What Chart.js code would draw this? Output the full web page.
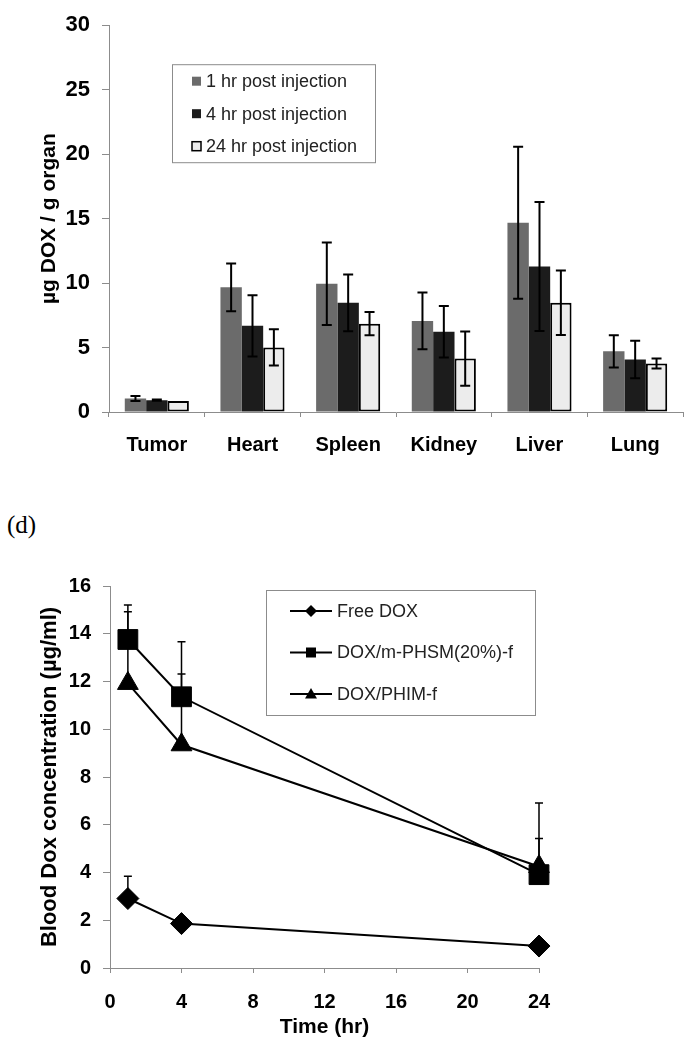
<!DOCTYPE html>
<html>
<head>
<meta charset="utf-8">
<script src="https://cdn.jsdelivr.net/npm/chart.js@4.4.1/dist/chart.umd.min.js"></script>
<style>
  body { margin: 0; width: 699px; height: 1050px; background: #fff; position: relative; overflow: hidden; }
  #organ-wrap { position: absolute; left: 0; top: 0; width: 699px; height: 470px; }
  #blood-wrap { position: absolute; left: 0; top: 560px; width: 699px; height: 490px; }
  #panel-label { position: absolute; left: 7px; top: 511px; font-family: "Liberation Serif", "Times New Roman", serif; font-size: 25px; color: #000; }
</style>
</head>
<body>
<div id="organ-wrap"><canvas id="organ-chart" width="699" height="470"></canvas></div>
<div id="panel-label">(d)</div>
<div id="blood-wrap"><canvas id="blood-chart" width="699" height="490"></canvas></div>
<script>
// organ distribution data (ug DOX / g organ)
const organs = ['Tumor', 'Heart', 'Spleen', 'Kidney', 'Liver', 'Lung'];
const organSeries = ['1 hr post injection', '4 hr post injection', '24 hr post injection'];
const hr1 = [1.05, 9.67, 9.95, 7.06, 14.68, 4.71];
const hr1Err = [0.2, 1.85, 3.2, 2.2, 5.9, 1.25];
const hr4 = [0.92, 6.68, 8.47, 6.22, 11.28, 4.07];
const hr4Err = [0.05, 2.38, 2.2, 2.0, 5.0, 1.45];
const hr24 = [0.85, 5.01, 6.85, 4.14, 8.47, 3.76];
const hr24Err = [0, 1.4, 0.9, 2.1, 2.5, 0.38];

// blood concentration data (ug/ml)
const timePoints = [1, 4, 24];
const bloodSeries = ['Free DOX', 'DOX/m-PHSM(20%)-f', 'DOX/PHIM-f'];
const freeDox = [2.91, 1.86, 0.92];
const freeDoxErr = [0.93, 0, 0];
const phsm = [13.76, 11.36, 3.91];
const phsmErr = [1.44, 2.3, 3.0];
const phim = [11.92, 9.35, 4.25];
const phimErr = [3.0, 2.96, 1.17];

const FONT = '"Liberation Sans", Arial, sans-serif';
const AXIS_GRAY = '#8c8c8c';

Chart.defaults.font.family = FONT;
Chart.defaults.color = '#000';

// error bars, drawn through the y scale of each chart
function drawErrorBars(chart, errors, symmetric, capHalf, lineWidth) {
    const ctx = chart.ctx;
    const yScale = chart.scales.y;
    ctx.save();
    ctx.strokeStyle = '#000';
    ctx.lineWidth = lineWidth;
    chart.data.datasets.forEach((ds, i) => {
        const meta = chart.getDatasetMeta(i);
        meta.data.forEach((el, j) => {
            const e = errors[i][j];
            if (!e) return;
            const raw = ds.data[j];
            const v = typeof raw === 'object' ? raw.y : raw;
            const yTop = yScale.getPixelForValue(v + e);
            const yBot = symmetric ? yScale.getPixelForValue(v - e) : el.y;
            ctx.beginPath();
            ctx.moveTo(el.x, yTop);
            ctx.lineTo(el.x, yBot);
            ctx.moveTo(el.x - capHalf, yTop);
            ctx.lineTo(el.x + capHalf, yTop);
            if (symmetric) {
                ctx.moveTo(el.x - capHalf, yBot);
                ctx.lineTo(el.x + capHalf, yBot);
            }
            ctx.stroke();
        });
    });
    ctx.restore();
}

function drawMarker(ctx, style, x, y, r) {
    ctx.beginPath();
    if (style === 'rectRot') {
        ctx.moveTo(x, y - r); ctx.lineTo(x + r, y); ctx.lineTo(x, y + r); ctx.lineTo(x - r, y);
    } else if (style === 'rect') {
        ctx.rect(x - r, y - r, 2 * r, 2 * r);
    } else {
        ctx.moveTo(x, y - r); ctx.lineTo(x + r, y + r * 0.75); ctx.lineTo(x - r, y + r * 0.75);
    }
    ctx.closePath();
    ctx.fill();
}

// legend boxes inside the plot area
function drawInsideLegend(chart, box) {
    const ctx = chart.ctx;
    const area = chart.chartArea;
    const left = area.left + box.dx;
    const top = area.top + box.dy;
    ctx.save();
    ctx.fillStyle = '#fff';
    ctx.fillRect(left, top, box.w, box.h);
    ctx.strokeStyle = AXIS_GRAY;
    ctx.lineWidth = 1;
    ctx.strokeRect(left + 0.5, top + 0.5, box.w, box.h);
    ctx.font = '18px ' + FONT;
    ctx.textBaseline = 'middle';
    chart.data.datasets.forEach((ds, i) => {
        const y = top + box.firstY + i * box.stepY;
        if (box.kind === 'bar') {
            ctx.fillStyle = ds.backgroundColor;
            ctx.fillRect(left + 20, y - 4.5, 9, 9);
            if (ds.borderWidth) {
                ctx.strokeStyle = '#000';
                ctx.lineWidth = 1.5;
                ctx.strokeRect(left + 20, y - 4.5, 9, 9);
            }
            ctx.fillStyle = '#222';
            ctx.fillText(ds.label, left + 34, y + 1);
        } else {
            ctx.strokeStyle = '#000';
            ctx.lineWidth = 2;
            ctx.beginPath();
            ctx.moveTo(left + 24, y);
            ctx.lineTo(left + 66, y);
            ctx.stroke();
            ctx.fillStyle = '#000';
            drawMarker(ctx, ds.pointStyle, left + 45, y, ds.pointStyle === 'rect' ? 5 : 6);
            ctx.fillStyle = '#222';
            ctx.fillText(ds.label, left + 71, y + 1);
        }
    });
    ctx.restore();
}

function initOrganChart() {
    const ctx = document.getElementById('organ-chart').getContext('2d');
    new Chart(ctx, {
        type: 'bar',
        data: {
            labels: organs,
            datasets: [
                { label: organSeries[0], data: hr1, backgroundColor: '#6b6b6b', borderWidth: 0 },
                { label: organSeries[1], data: hr4, backgroundColor: '#1c1c1c', borderWidth: 0 },
                { label: organSeries[2], data: hr24, backgroundColor: '#ececec', borderColor: '#000', borderWidth: 2, borderSkipped: false }
            ]
        },
        options: {
            responsive: false,
            animation: false,
            categoryPercentage: 0.67,
            barPercentage: 1.0,
            layout: { padding: { left: 0, top: 21, right: 16, bottom: 0 } },
            plugins: { legend: { display: false }, tooltip: { enabled: false } },
            scales: {
                x: {
                    grid: { drawOnChartArea: false, offset: true, tickLength: 5, color: AXIS_GRAY },
                    border: { color: AXIS_GRAY },
                    ticks: { font: { size: 20, weight: 'bold' }, color: '#000', padding: 16 },
                    afterFit(s) { s.height = 58; }
                },
                y: {
                    min: 0,
                    max: 30,
                    grid: { drawOnChartArea: false, tickLength: 7, color: AXIS_GRAY },
                    border: { color: AXIS_GRAY },
                    ticks: { stepSize: 5, font: { size: 22, weight: 'bold' }, color: '#000', padding: 12 },
                    title: {
                        display: true,
                        text: 'µg DOX / g organ',
                        font: { size: 21, weight: 'bold' },
                        color: '#000',
                        padding: { top: 37, bottom: 0 }
                    },
                    afterFit(s) { s.width = 109; }
                }
            }
        },
        plugins: [{
            id: 'organExtras',
            afterDatasetsDraw(chart) {
                drawErrorBars(chart, [hr1Err, hr4Err, hr24Err], true, 5, 2);
                drawInsideLegend(chart, { kind: 'bar', dx: 63, dy: 39, w: 203, h: 98, firstY: 17, stepY: 32.5 });
            }
        }]
    });
}

function initBloodChart() {
    const ctx = document.getElementById('blood-chart').getContext('2d');
    const toPoints = arr => timePoints.map((t, i) => ({ x: t, y: arr[i] }));
    const lineStyle = { borderColor: '#000', backgroundColor: '#000', borderWidth: 2, pointBorderWidth: 1, pointBorderColor: '#000', tension: 0, clip: false };
    new Chart(ctx, {
        type: 'line',
        data: {
            datasets: [
                Object.assign({ label: bloodSeries[0], data: toPoints(freeDox), pointStyle: 'rectRot', pointRadius: 11 }, lineStyle),
                Object.assign({ label: bloodSeries[1], data: toPoints(phsm), pointStyle: 'rect', pointRadius: 14 }, lineStyle),
                Object.assign({ label: bloodSeries[2], data: toPoints(phim), pointStyle: 'triangle', pointRadius: 12 }, lineStyle)
            ]
        },
        options: {
            responsive: false,
            animation: false,
            layout: { padding: { left: 0, top: 26, right: 160, bottom: 0 } },
            plugins: { legend: { display: false }, tooltip: { enabled: false } },
            scales: {
                x: {
                    type: 'linear',
                    min: 0,
                    max: 24,
                    grid: { drawOnChartArea: false, tickLength: 5, color: AXIS_GRAY },
                    border: { color: AXIS_GRAY },
                    ticks: { stepSize: 4, font: { size: 20, weight: 'bold' }, color: '#000', padding: 17 },
                    title: {
                        display: true,
                        text: 'Time (hr)',
                        font: { size: 21, weight: 'bold' },
                        color: '#000',
                        padding: { top: 0, bottom: 10 }
                    },
                    afterFit(s) { s.height = 82; }
                },
                y: {
                    min: 0,
                    max: 16,
                    grid: { drawOnChartArea: false, tickLength: 7, color: AXIS_GRAY },
                    border: { color: AXIS_GRAY },
                    ticks: { stepSize: 2, font: { size: 20, weight: 'bold' }, color: '#000', padding: 12 },
                    title: {
                        display: true,
                        text: 'Blood Dox concentration (µg/ml)',
                        font: { size: 22, weight: 'bold' },
                        color: '#000',
                        padding: { top: 37, bottom: 0 }
                    },
                    afterFit(s) { s.width = 110; }
                }
            }
        },
        plugins: [{
            id: 'bloodExtras',
            beforeDatasetsDraw(chart) {
                drawErrorBars(chart, [freeDoxErr, phsmErr, phimErr], false, 4, 1.5);
            },
            afterDatasetsDraw(chart) {
                drawInsideLegend(chart, { kind: 'line', dx: 156, dy: 4, w: 269, h: 125, firstY: 21, stepY: 41.5 });
            }
        }]
    });
}

initOrganChart();
initBloodChart();
</script>
</body>
</html>
